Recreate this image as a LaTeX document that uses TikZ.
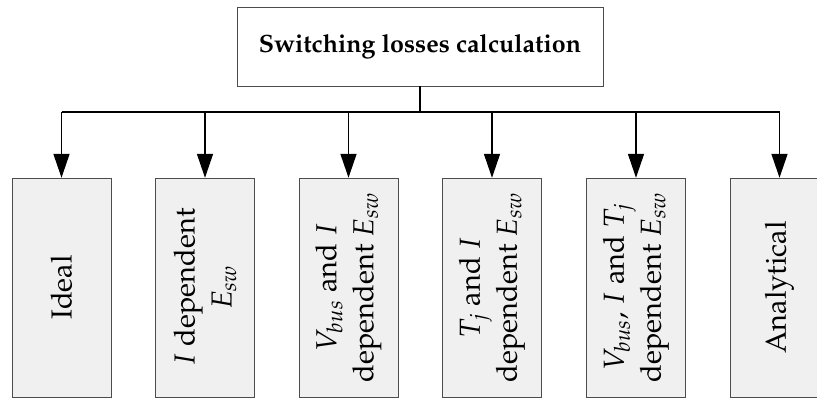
\documentclass[tikz,border=0pt]{standalone}
\usepackage[T1]{fontenc}
\usepackage{mathpazo}
\usetikzlibrary{arrows.meta}

\begin{document}
\begin{tikzpicture}[x=1pt,y=1pt,
  method/.style={draw=black!70,fill=black!6,minimum width=99pt,minimum height=219pt,inner sep=0pt},
  methodtext/.style={rotate=90,align=center,font=\fontsize{29}{37}\selectfont},
  branch/.style={-{Triangle[length=24pt,width=16pt]},line width=1.5pt}]
\useasboundingbox (0,0) rectangle (817,399);
\clip (0,0) rectangle (817,399);
\node[draw=black!70,line width=0.8pt,minimum width=366pt,minimum height=79pt,font=\fontsize{25}{30}\selectfont\bfseries] (calc) at (420,352.5) {Switching losses calculation};
\coordinate (split) at (420,287);
\node[method] (m1) at (61.5,111.5) {};
\node[method] (m2) at (205,111.5) {};
\node[method] (m3) at (348.5,111.5) {};
\node[method] (m4) at (492,111.5) {};
\node[method] (m5) at (636,111.5) {};
\node[method] (m6) at (779.5,111.5) {};
\node[methodtext] (t1) at (m1) {Ideal};
\node[methodtext] (t2) at (m2) {$I$ dependent\\$E_{sw}$};
\node[methodtext] (t3) at (m3) {$V_{bus}$ and $I$\\dependent $E_{sw}$};
\node[methodtext] (t4) at (m4) {$T_j$ and $I$\\dependent $E_{sw}$};
\node[methodtext] (t5) at (m5) {$V_{bus}$, $I$ and $T_j$\\dependent $E_{sw}$};
\node[methodtext] (t6) at (m6) {Analytical};
\draw[line width=1.5pt] (calc.south) -- (split);
\draw[line width=1.5pt] (m1.north |- split) -- (m6.north |- split);
\foreach \i in {1,...,6}
  \draw[branch] (m\i.north |- split) -- (m\i.north);
\end{tikzpicture}
\end{document}
